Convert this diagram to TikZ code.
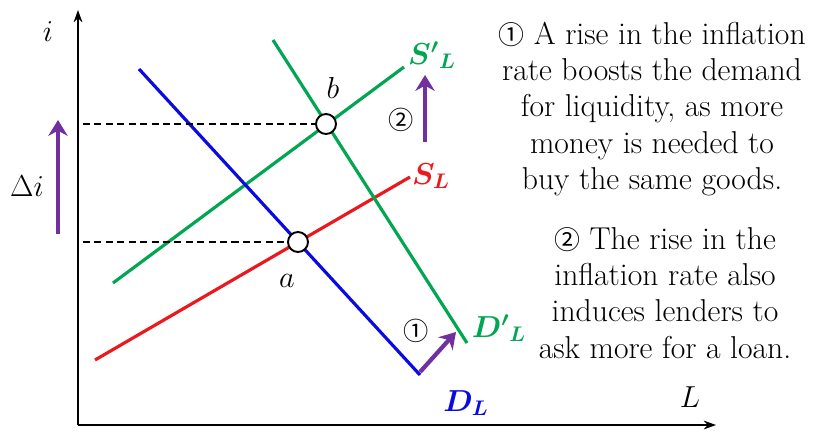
\documentclass[tikz,border=0pt]{standalone}
\usepackage{amsmath,bm}
\usepackage{fontspec}
\newfontfamily\circfont[Scale=0.82]{Noto Sans CJK SC}
\usetikzlibrary{arrows.meta, positioning}
\definecolor{dblue}{RGB}{10,10,225}
\definecolor{dred}{RGB}{235,25,30}
\definecolor{dgreen}{RGB}{0,166,81}
\definecolor{dpurple}{RGB}{112,48,160}
\tikzset{
  curve/.style={line width=1.8pt},
  axis/.style={line width=0.9pt, -{Stealth[length=7pt,width=5pt]}},
  shiftarrow/.style={dpurple, line width=2.4pt, -{Stealth[length=9pt,width=11pt]}},
  eqpoint/.style={circle, draw, fill=white, line width=1.1pt, minimum size=0.4cm, inner sep=0pt},
  guide/.style={line width=0.6pt, dash pattern=on 4pt off 2.5pt},
  curvelabel/.style={font=\fontsize{17.5}{20}\selectfont},
  note/.style={align=center, font=\fontsize{18}{20.6}\selectfont}
}
\begin{document}
\begin{tikzpicture}[x=0.2mm, y=-0.2mm]
  \useasboundingbox (0,0) rectangle (830,432);
  % axes
  \coordinate (origin) at (78,425);
  \coordinate (itop) at (78,10);
  \coordinate (Lend) at (716,425);
  \draw[axis] (origin) -- (itop);
  \draw[axis] (origin) -- (Lend);
  \node[curvelabel] (ilab) at (48,32) {$i$};
  \node[curvelabel] (Llab) at (690,397) {$L$};
  % curve end points
  \coordinate (DL1) at (139,69);  \coordinate (DL2) at (420,375);
  \coordinate (DpL1) at (273,40); \coordinate (DpL2) at (467,343);
  \coordinate (SL1) at (95,360);  \coordinate (SL2) at (410,177);
  \coordinate (SpL1) at (113,283); \coordinate (SpL2) at (404,67);
  \draw[curve, dred] (SL1) -- (SL2);
  \draw[curve, dgreen] (SpL1) -- (SpL2);
  \draw[curve, dblue] (DL1) -- (DL2);
  \draw[curve, dgreen] (DpL1) -- (DpL2);
  \node[curvelabel, dgreen] (SpLlab) at (432,55) {$\bm{S'{}_L}$};
  \node[curvelabel, dred] (SLlab) at (431,176) {$\bm{S_L}$};
  \node[curvelabel, dgreen] (DpLlab) at (499,328) {$\bm{D'{}_L}$};
  \node[curvelabel, dblue] (DLlab) at (466,403) {$\bm{D_L}$};
  % equilibria and guides
  \node[eqpoint] (a) at (298,242) {};
  \node[eqpoint] (b) at (326,124) {};
  \coordinate (ga) at (83,242);
  \coordinate (gb) at (83,124);
  \draw[guide] (ga) -- (a.west);
  \draw[guide] (gb) -- (b.west);
  \node[curvelabel] (alab) at (287,281) {$a$};
  \node[curvelabel] (blab) at (333,88) {$b$};
  % shifts
  \coordinate (di1) at (58,234); \coordinate (di2) at (58,120);
  \draw[shiftarrow] (di1) -- (di2);
  \node[curvelabel] (dilab) at (27,186) {$\Delta i$};
  \coordinate (s1) at (420,372); \coordinate (s2) at (456,332);
  \draw[shiftarrow] (s1) -- (s2);
  \node[curvelabel] (one) at (416,331) {\circfont ①};
  \coordinate (t1) at (425,142); \coordinate (t2) at (425,75);
  \draw[shiftarrow] (t1) -- (t2);
  \node[curvelabel] (two) at (401,120) {\circfont ②};
  % explanations
  \node[note] (note1) at (652,109) {{\circfont ①} A rise in the inflation\\rate boosts the demand\\for liquidity, as more\\money is needed to\\buy the same goods.};
  \node[note] (note2) at (665,293) {{\circfont ②} The rise in the\\inflation rate also\\induces lenders to\\ask more for a loan.};
\end{tikzpicture}
\end{document}
